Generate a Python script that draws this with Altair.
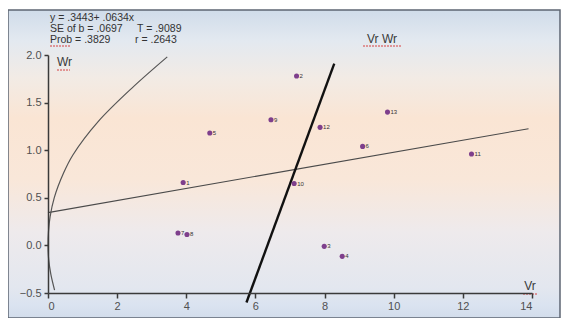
import altair as alt
import pandas as pd

# ---- data ----
labels = ["1", "2", "3", "4", "5", "6", "7", "8", "9", "10", "11", "12", "13"]
vr = [3.91, 7.19, 7.99, 8.51, 4.68, 9.10, 3.76, 4.02, 6.45, 7.12, 12.25, 7.87, 9.82]
wr = [0.66, 1.78, -0.01, -0.115, 1.18, 1.04, 0.13, 0.115, 1.32, 0.65, 0.96, 1.24, 1.40]

# regression line y = .3443 + .0634x (end points)
reg_x = [0.0, 13.9]
reg_y = [0.3443, 1.2256]

# limiting parabola
par_x = [0.19, 0.08, 0.02, 0.0, 0.015, 0.06, 0.18, 0.45, 0.72, 1.45, 2.45, 3.45]
par_y = [-0.47, -0.30, -0.15, 0.0, 0.15, 0.30, 0.50, 0.76, 0.95, 1.30, 1.66, 1.98]

# thick Vr-Wr line (end points)
vw_x = [5.74, 8.28]
vw_y = [-0.60, 1.91]

x_ticks = [0, 2, 4, 6, 8, 10, 12, 14]
y_ticks = [-0.5, 0.0, 0.5, 1.0, 1.5, 2.0]

W, H = 484, 238

pts = pd.DataFrame({"Vr": vr, "Wr": wr, "lab": labels})
reg = pd.DataFrame({"Vr": reg_x, "Wr": reg_y})
par = pd.DataFrame({"Vr": par_x, "Wr": par_y, "o": list(range(len(par_x)))})
vw = pd.DataFrame({"Vr": vw_x, "Wr": vw_y})

xs = alt.Scale(domain=[0, 14], nice=False, zero=False)
ys = alt.Scale(domain=[-0.5, 2.0], nice=False, zero=False)

xax = alt.Axis(values=x_ticks, title=None, grid=False, format="d", zindex=2,
               domainColor="#3a3a3a", domainWidth=1.5, tickColor="#3a3a3a",
               tickWidth=1.5, tickSize=5, labelPadding=2, labelFontSize=11,
               labelColor="#505050", labelFont="Liberation Sans")
yax = alt.Axis(values=y_ticks, title=None, grid=False, format=".1f", zindex=2,
               domainColor="#3a3a3a", domainWidth=1.5, tickColor="#3a3a3a",
               tickWidth=1.5, tickSize=4, labelPadding=3, labelFontSize=11,
               labelColor="#505050", labelFont="Liberation Sans")

grad = alt.Gradient(
    gradient="linear", x1=0, x2=0, y1=0, y2=1,
    stops=[
        alt.GradientStop(color="#d0dcea", offset=0.0),
        alt.GradientStop(color="#e3e9f0", offset=0.10),
        alt.GradientStop(color="#f2ebe5", offset=0.22),
        alt.GradientStop(color="#fae5d4", offset=0.35),
        alt.GradientStop(color="#f9e7d9", offset=0.55),
        alt.GradientStop(color="#eeeaec", offset=0.72),
        alt.GradientStop(color="#e3e7ef", offset=0.90),
        alt.GradientStop(color="#dae3f0", offset=0.96),
        alt.GradientStop(color="#d2ddeb", offset=1.0),
    ],
)

bg = alt.Chart(pd.DataFrame({"a": [0]})).mark_rect(
    fill=grad, stroke="#5d6673", strokeWidth=1.5
).encode(x=alt.value(-40), x2=alt.value(512), y=alt.value(-45), y2=alt.value(263))

base_x = alt.X("Vr:Q", scale=xs, axis=xax)
base_y = alt.Y("Wr:Q", scale=ys, axis=yax)

reg_line = alt.Chart(reg).mark_line(color="#4a4a4a", strokeWidth=1.1).encode(
    x=base_x, y=base_y)
par_line = alt.Chart(par).mark_line(color="#555555", strokeWidth=1.2,
                                    interpolate="catmull-rom").encode(
    x=alt.X("Vr:Q", scale=xs), y=alt.Y("Wr:Q", scale=ys), order="o:Q")
vw_line = alt.Chart(vw).mark_line(color="#111111", strokeWidth=2.4).encode(
    x=alt.X("Vr:Q", scale=xs), y=alt.Y("Wr:Q", scale=ys))

dots = alt.Chart(pts).mark_point(filled=True, size=26, color="#7e3f8c", opacity=1).encode(
    x=alt.X("Vr:Q", scale=xs), y=alt.Y("Wr:Q", scale=ys))
dot_lab = alt.Chart(pts).mark_text(align="left", baseline="middle", dx=3, fontSize=6,
                                   color="#333333", font="Liberation Sans").encode(
    x=alt.X("Vr:Q", scale=xs), y=alt.Y("Wr:Q", scale=ys), text="lab:N")

ann = pd.DataFrame({
    "t": ["y = .3443+ .0634x", "SE of b = .0697", "T = .9089", "Prob = .3829", "r = .2643"],
    "px": [2, 2, 89, 2, 87],
    "py": [-37, -26, -26, -15, -15],
})
ann_txt = alt.Chart(ann).mark_text(align="left", baseline="middle", fontSize=10.5,
                                   color="#333333", font="Liberation Sans").encode(
    x=alt.X("px:Q", scale=None), y=alt.Y("py:Q", scale=None), text="t:N")

titles = pd.DataFrame({
    "t": ["Wr", "Vr", "Vr Wr"],
    "px": [9, 482, 334],
    "py": [7, 231, -16],
})

ttl_left = alt.Chart(titles.iloc[[0]]).mark_text(align="left", baseline="middle", fontSize=12,
                                                 color="#3a3a3a", font="Liberation Sans").encode(
    x=alt.X("px:Q", scale=None), y=alt.Y("py:Q", scale=None), text="t:N")
ttl_center = alt.Chart(titles.iloc[[1, 2]]).mark_text(align="center", baseline="middle", fontSize=12,
                                                      color="#3a3a3a", font="Liberation Sans").encode(
    x=alt.X("px:Q", scale=None), y=alt.Y("py:Q", scale=None), text="t:N")

# red spell-check underlines
und = pd.DataFrame({
    "x1": [9, 475, 315, 2],
    "x2": [22, 490, 354, 22],
    "y": [15, 239, -9, -9],
})
underline = alt.Chart(und).mark_rule(color="#d64040", strokeWidth=1, strokeDash=[2, 1]).encode(
    x=alt.X("x1:Q", scale=None), x2="x2:Q", y=alt.Y("y:Q", scale=None))

chart = alt.layer(
    bg, reg_line, par_line, vw_line, dots, dot_lab, ann_txt, ttl_left, ttl_center, underline
).properties(
    width=W, height=H,
    padding={"left": 40, "top": 47, "right": 30, "bottom": 25},
    autosize="none",
    background="white",
).configure_view(stroke=None)

chart.save("out.html", embed_options={"renderer": "svg", "actions": False})
